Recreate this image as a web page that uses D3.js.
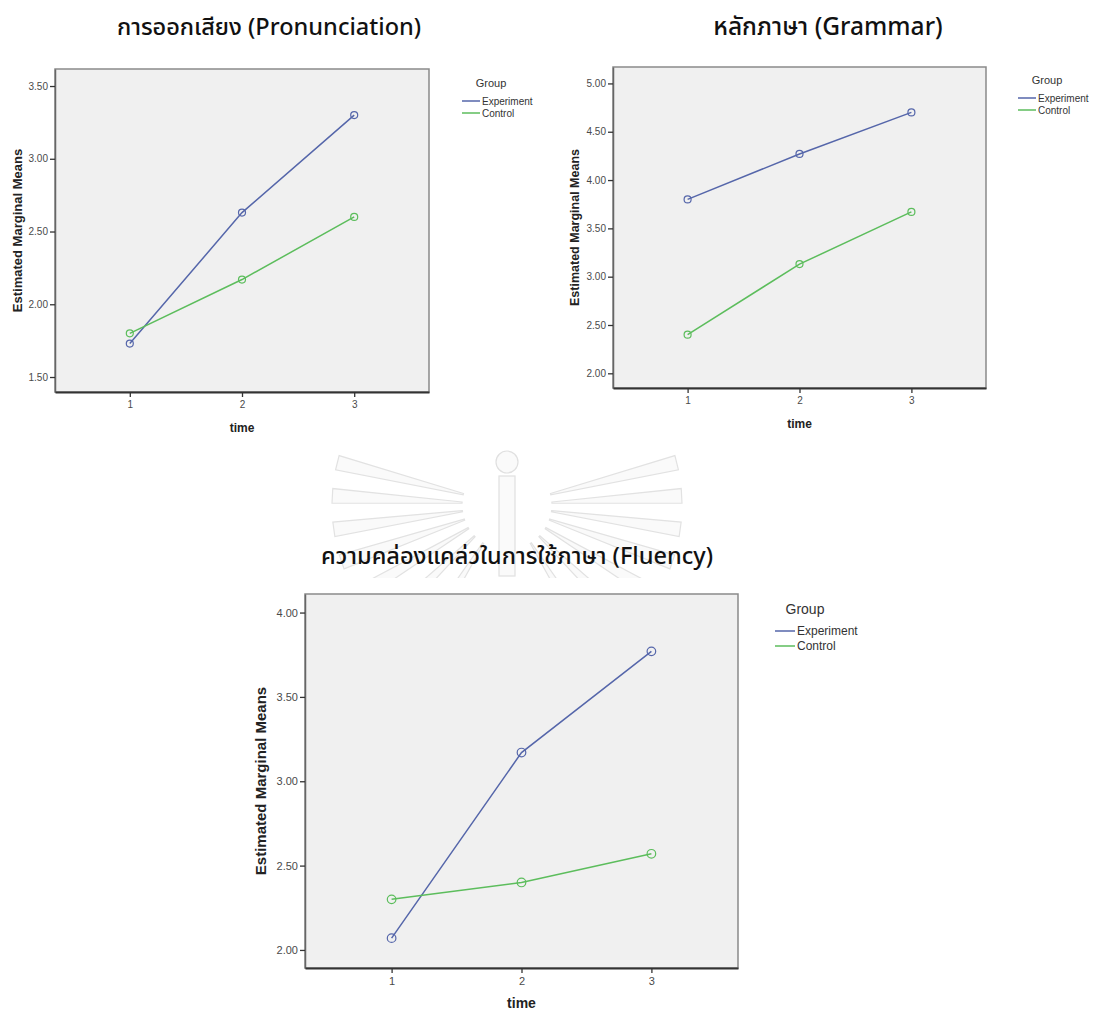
<!DOCTYPE html>
<html>
<head>
<meta charset="utf-8">
<script src="https://cdn.jsdelivr.net/npm/d3@7"></script>
<style>
  body { margin: 0; background: #fff; }
  svg { display: block; }
  .tick text { font-family: "Liberation Sans", Arial, sans-serif; fill: #4a4a4a; }
  .title { font-family: "Noto Sans Thai", "Noto Sans", "DejaVu Sans", sans-serif; font-weight: 500; fill: #111; }
  .lab { font-family: "Liberation Sans", Arial, sans-serif; font-weight: bold; fill: #222; }
  .leg { font-family: "Liberation Sans", Arial, sans-serif; fill: #333; }
</style>
</head>
<body>
<script>
const times = [1, 2, 3];
const groups = ["Experiment", "Control"];
const colors = ["#5566aa", "#5cbd5c"];

const pronExperiment = [1.73, 2.63, 3.30];
const pronControl = [1.80, 2.17, 2.60];
const pronTicks = [1.5, 2.0, 2.5, 3.0, 3.5];

const gramExperiment = [3.80, 4.27, 4.70];
const gramControl = [2.40, 3.13, 3.67];
const gramTicks = [2.0, 2.5, 3.0, 3.5, 4.0, 4.5, 5.0];

const fluExperiment = [2.07, 3.17, 3.77];
const fluControl = [2.30, 2.40, 2.57];
const fluTicks = [2.0, 2.5, 3.0, 3.5, 4.0];

const titles = ["การออกเสียง (Pronunciation)", "หลักภาษา (Grammar)", "ความคล่องแคล่วในการใช้ภาษา (Fluency)"];

// ray angles of the faint background emblem (degrees, from pointing left)
const rayAngles = [-14, -3, 8, 19, 31, 44, 58];

const width = 1093;
const height = 1016;

const svg = d3.select("body").append("svg")
  .attr("width", width)
  .attr("height", height);

// faint watermark emblem
const wm = svg.append("g").attr("clip-path", "url(#wmclip)");
svg.append("clipPath").attr("id", "wmclip")
  .append("rect").attr("x", 330).attr("y", 438).attr("width", 400).attr("height", 140);
const cx = 507, cy = 505;
[-1, 1].forEach(side => {
  rayAngles.forEach(a => {
    const t = a * Math.PI / 180;
    const pts = [[45, -0.8], [175, -2.4], [175, 2.4], [45, 0.8]].map(([r, w]) => {
      const ang = t + w * Math.PI / 180;
      return [cx - side * r * Math.cos(ang), cy + r * Math.sin(ang)];
    });
    wm.append("path")
      .attr("d", d3.line()(pts) + "Z")
      .attr("fill", "#fafafa")
      .attr("stroke", "#e2e2e2")
      .attr("stroke-width", 1.2);
  });
});
wm.append("rect")
  .attr("x", cx - 8).attr("y", 476).attr("width", 16).attr("height", 100)
  .attr("fill", "#fafafa").attr("stroke", "#e0e0e0").attr("stroke-width", 1.2);
wm.append("circle")
  .attr("cx", cx).attr("cy", 462).attr("r", 11)
  .attr("fill", "#fafafa").attr("stroke", "#e0e0e0").attr("stroke-width", 1.2);

function drawPanel(p) {
  const x = d3.scaleLinear().domain([1 / 3, 11 / 3]).range([p.left, p.right]);
  const y = d3.scaleLinear().domain(p.yDomain).range([p.bottom, p.top]);

  svg.append("text")
    .attr("class", "title")
    .attr("x", p.titleX)
    .attr("y", p.titleY)
    .attr("text-anchor", "middle")
    .style("font-size", p.titleSize + "px")
    .text(p.title);

  svg.append("rect")
    .attr("x", p.left)
    .attr("y", p.top)
    .attr("width", p.right - p.left)
    .attr("height", p.bottom - p.top)
    .attr("fill", "#f0f0f0")
    .attr("stroke", "#8a8a8a")
    .attr("stroke-width", 1.5);

  const yAxis = svg.append("g")
    .attr("transform", `translate(${p.left},0)`)
    .call(d3.axisLeft(y).tickValues(p.ticks).tickFormat(d3.format(".2f"))
      .tickSize(5).tickSizeOuter(0).tickPadding(2));
  yAxis.select(".domain").attr("stroke", "#666").attr("stroke-width", 1.5);
  yAxis.selectAll(".tick line").attr("stroke", "#333").attr("stroke-width", 1.3);
  yAxis.selectAll(".tick text").style("font-size", p.tickSize + "px");

  const xAxis = svg.append("g")
    .attr("transform", `translate(0,${p.bottom})`)
    .call(d3.axisBottom(x).tickValues(times).tickFormat(d3.format("d"))
      .tickSize(5).tickSizeOuter(0).tickPadding(4));
  xAxis.select(".domain").attr("stroke", "#333").attr("stroke-width", 1.8);
  xAxis.selectAll(".tick line").attr("stroke", "#333").attr("stroke-width", 1.3);
  xAxis.selectAll(".tick text").style("font-size", p.tickSize + "px");

  svg.append("text")
    .attr("class", "lab")
    .attr("transform", `translate(${p.yLabX},${(p.top + p.bottom) / 2}) rotate(-90)`)
    .attr("text-anchor", "middle")
    .style("font-size", p.yLabSize + "px")
    .text("Estimated Marginal Means");

  svg.append("text")
    .attr("class", "lab")
    .attr("x", x(2))
    .attr("y", p.timeY)
    .attr("text-anchor", "middle")
    .style("font-size", p.labSize + "px")
    .text("time");

  const line = d3.line().x((d, i) => x(times[i])).y(d => y(d));
  p.series.forEach((s, k) => {
    svg.append("path")
      .datum(s)
      .attr("d", line)
      .attr("fill", "none")
      .attr("stroke", colors[k])
      .attr("stroke-width", 1.5);
    svg.selectAll(null)
      .data(s)
      .enter()
      .append("circle")
      .attr("cx", (d, i) => x(times[i]))
      .attr("cy", d => y(d))
      .attr("r", p.r)
      .attr("fill", "none")
      .attr("stroke", colors[k])
      .attr("stroke-width", 1.2);
  });

  // legend
  svg.append("text")
    .attr("class", "leg")
    .attr("x", p.legX + p.legLine / 2 + 20)
    .attr("y", p.legY)
    .attr("text-anchor", "middle")
    .style("font-size", p.legTitleSize + "px")
    .text("Group");
  groups.forEach((g, k) => {
    const yy = p.legY + p.legGap * (k + 1) + 2;
    svg.append("line")
      .attr("x1", p.legX)
      .attr("x2", p.legX + p.legLine)
      .attr("y1", yy)
      .attr("y2", yy)
      .attr("stroke", colors[k])
      .attr("stroke-width", 1.5);
    svg.append("text")
      .attr("class", "leg")
      .attr("x", p.legX + p.legLine + 2)
      .attr("y", yy)
      .attr("dy", "0.35em")
      .style("font-size", p.legSize + "px")
      .text(g);
  });
}

drawPanel({
  title: titles[0], titleX: 269, titleY: 35, titleSize: 23.5,
  left: 55, right: 429, top: 69, bottom: 392,
  yDomain: [1.397, 3.617], ticks: pronTicks,
  series: [pronExperiment, pronControl],
  tickSize: 10, labSize: 12, yLabSize: 13, yLabX: 22, timeY: 432, r: 3.5,
  legX: 462, legY: 87, legGap: 12, legLine: 18, legSize: 10, legTitleSize: 11
});

drawPanel({
  title: titles[1], titleX: 828, titleY: 35, titleSize: 24.5,
  left: 613, right: 986, top: 67, bottom: 388,
  yDomain: [1.848, 5.17], ticks: gramTicks,
  series: [gramExperiment, gramControl],
  tickSize: 10, labSize: 12, yLabSize: 12.5, yLabX: 579, timeY: 428, r: 3.5,
  legX: 1018, legY: 84, legGap: 12, legLine: 18, legSize: 10, legTitleSize: 11
});

drawPanel({
  title: titles[2], titleX: 517, titleY: 564, titleSize: 23.5,
  left: 305, right: 738, top: 594, bottom: 968,
  yDomain: [1.893, 4.11], ticks: fluTicks,
  series: [fluExperiment, fluControl],
  tickSize: 11, labSize: 14, yLabSize: 15, yLabX: 266, timeY: 1008, r: 4.3,
  legX: 775, legY: 614, legGap: 15, legLine: 20, legSize: 12, legTitleSize: 14
});
</script>
</body>
</html>
